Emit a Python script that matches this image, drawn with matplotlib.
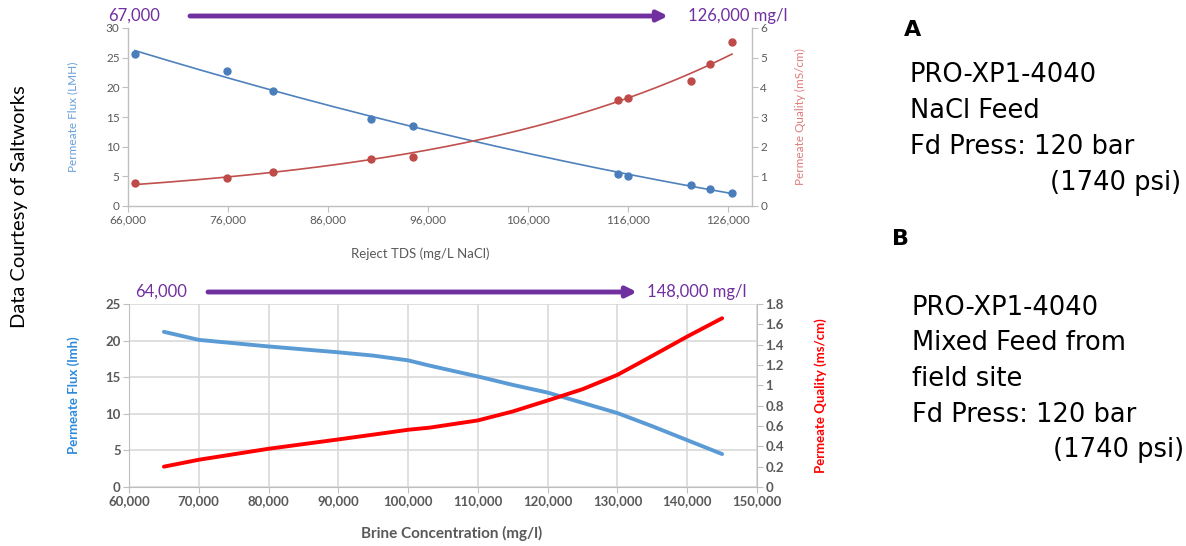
import numpy as np
import matplotlib
matplotlib.use('Agg')
import matplotlib.pyplot as plt
from matplotlib.ticker import FuncFormatter

plt.rcParams['font.family'] = ['Lato', 'DejaVu Sans']

# ---- chart A: NaCl feed (measured points) ----
tds_a = [66700, 75900, 80500, 90300, 94500, 115000, 116000, 122300, 124200, 126400]
flux_a = [25.6, 22.7, 19.4, 14.7, 13.5, 5.4, 5.1, 3.6, 2.8, 2.2]
quality_a = [0.77, 0.93, 1.16, 1.60, 1.64, 3.56, 3.65, 4.22, 4.78, 5.54]

# ---- chart B: mixed feed from field site ----
brine_b = [65000, 70000, 80000, 90000, 95000, 100000, 103000, 110000, 115000,
           120000, 125000, 130000, 135000, 140000, 145000]
flux_b = [21.2, 20.1, 19.2, 18.4, 17.95, 17.3, 16.6, 15.1, 13.95,
          12.9, 11.5, 10.1, 8.3, 6.4, 4.5]
quality_b = [0.20, 0.268, 0.376, 0.468, 0.515, 0.563, 0.583, 0.655, 0.743,
             0.851, 0.962, 1.103, 1.29, 1.48, 1.66]

arrow_a = ('67,000', '126,000 mg/l')
arrow_b = ('64,000', '148,000 mg/l')

note_a = ['PRO-XP1-4040', 'NaCl Feed', 'Fd Press: 120 bar', '(1740 psi)']
note_b = ['PRO-XP1-4040', 'Mixed Feed from', 'field site', 'Fd Press: 120 bar', '(1740 psi)']

W, H = 1186, 546
fig = plt.figure(figsize=(W / 100, H / 100), dpi=100)


def px_box(left, top, right, bottom):
    return [left / W, 1 - bottom / H, (right - left) / W, (bottom - top) / H]


def fx(x):
    return x / W


def fy(y):
    return 1 - y / H


comma = FuncFormatter(lambda v, p: f'{int(v):,}')
grey = '#595959'
axis_grey = '#BFBFBF'
purple = '#7030A0'

# ================= top chart =================
ax1 = fig.add_axes(px_box(128, 28, 752, 206))
ax1b = ax1.twinx()

ax1.set_xlim(66000, 128400)
ax1.set_ylim(0, 30)
ax1b.set_ylim(0, 6)
ax1.set_xticks(np.arange(66000, 126001, 10000))
ax1.set_yticks(np.arange(0, 31, 5))
ax1b.set_yticks(np.arange(0, 7, 1))
ax1.xaxis.set_major_formatter(comma)

# trendlines (poly 2 for flux, exponential for quality)
xs = np.linspace(min(tds_a), max(tds_a), 200)
pf = np.polyfit(tds_a, flux_a, 2)
ax1.plot(xs, np.polyval(pf, xs), color='#4F81BD', lw=1.2, zorder=2)
pq = np.polyfit(tds_a, np.log(quality_a), 1)
ax1b.plot(xs, np.exp(np.polyval(pq, xs)), color='#C0504D', lw=1.2, zorder=2)

ax1.plot(tds_a, flux_a, 'o', color='#4A7EBB', ms=5, zorder=3)
ax1b.plot(tds_a, quality_a, 'o', color='#BE4B48', ms=5, zorder=3)

for a in (ax1, ax1b):
    a.spines['top'].set_visible(False)
    for s in ('left', 'right', 'bottom'):
        a.spines[s].set_color(axis_grey)
        a.spines[s].set_linewidth(1.0)
    a.tick_params(colors=grey, labelsize=8.5, length=4, width=0.8, color=axis_grey, pad=2)
ax1.spines['right'].set_visible(False)
ax1b.spines['left'].set_visible(False)
ax1b.spines['bottom'].set_visible(False)

ax1.set_ylabel('Permeate Flux (LMH)', color='#6A9FD8', fontsize=8.5, labelpad=20)
ax1b.set_ylabel('Permeate Quality (mS/cm)', color='#E07B7B', fontsize=8.5, labelpad=20)
fig.text(fx(420), fy(254), 'Reject TDS (mg/L NaCl)', ha='center', va='center',
         fontsize=9.5, color=grey)

# ================= bottom chart =================
ax2 = fig.add_axes(px_box(129, 304, 757, 487))
ax2b = ax2.twinx()
ax2.set_xlim(60000, 150000)
ax2.set_ylim(0, 25)
ax2b.set_ylim(0, 1.8)
ax2.set_xticks(np.arange(60000, 150001, 10000))
ax2.set_yticks(np.arange(0, 26, 5))
ax2b.set_yticks(np.round(np.arange(0, 1.81, 0.2), 1))
ax2b.yaxis.set_major_formatter(FuncFormatter(lambda v, p: f'{v:g}'))
ax2.xaxis.set_major_formatter(comma)
ax2.grid(True, color='#D9D9D9', lw=1.2)
ax2.set_axisbelow(True)

ax2.plot(brine_b, flux_b, color='#5B9BD5', lw=2.8, solid_capstyle='round', zorder=3)
ax2b.plot(brine_b, quality_b, color='#FF0000', lw=2.8, solid_capstyle='round', zorder=3)

for a in (ax2, ax2b):
    for s in ('left', 'right', 'bottom', 'top'):
        a.spines[s].set_color(axis_grey)
    a.spines['top'].set_visible(False)
    a.tick_params(colors=grey, labelsize=9.5, length=4, width=0.8, color=axis_grey, pad=2)
    for lab in a.get_xticklabels() + a.get_yticklabels():
        lab.set_fontweight('bold')
ax2.spines['right'].set_visible(False)
ax2b.spines['left'].set_visible(False)
ax2b.spines['bottom'].set_visible(False)

ax2.set_ylabel('Permeate Flux (lmh)', color='#2E8BDB', fontsize=9.5, fontweight='bold', labelpad=18)
ax2b.set_ylabel('Permeate Quality (ms/cm)', color='#FF0000', fontsize=9.5, fontweight='bold', labelpad=22)
fig.text(fx(452), fy(533), 'Brine Concentration (mg/l)', ha='center', va='center',
         fontsize=11, fontweight='bold', color=grey)

# ================= concentration arrows =================
for (lo, hi), y, x_lo, x0, x1, x_hi in [(arrow_a, 16, 108, 190, 668, 688),
                                       (arrow_b, 292, 135, 208, 637, 647)]:
    fig.text(fx(x_lo), fy(y), lo, color=purple, fontsize=12, ha='left', va='center')
    fig.text(fx(x_hi), fy(y), hi, color=purple, fontsize=12, ha='left', va='center')
    fig.add_artist(matplotlib.patches.FancyArrowPatch(
        (fx(x0), fy(y)), (fx(x1), fy(y)), transform=fig.transFigure,
        arrowstyle='-|>', mutation_scale=15, lw=3.5, color=purple, shrinkA=0, shrinkB=0))

# ================= side notes =================
fig.text(fx(20), fy(207), 'Data Courtesy of Saltworks', rotation=90, ha='center',
         va='center', fontsize=14.5, color='black')

side = ['DejaVu Sans']
fig.text(fx(904), fy(30), 'A', fontsize=16, fontweight='bold', ha='left', va='center', family=side)
for i, line in enumerate(note_a):
    if line.startswith('('):
        fig.text(fx(1181), fy(75 + 36 * i), line, fontsize=18.5, ha='right', va='center', family=side)
    else:
        fig.text(fx(910), fy(75 + 36 * i), line, fontsize=18.5, ha='left', va='center', family=side)

fig.text(fx(892), fy(239), 'B', fontsize=16, fontweight='bold', ha='left', va='center', family=side)
for i, line in enumerate(note_b):
    if line.startswith('('):
        fig.text(fx(1184), fy(308 + 35.5 * i), line, fontsize=18.5, ha='right', va='center', family=side)
    else:
        fig.text(fx(912), fy(308 + 35.5 * i), line, fontsize=18.5, ha='left', va='center', family=side)

fig.savefig('out.png', dpi=100)
